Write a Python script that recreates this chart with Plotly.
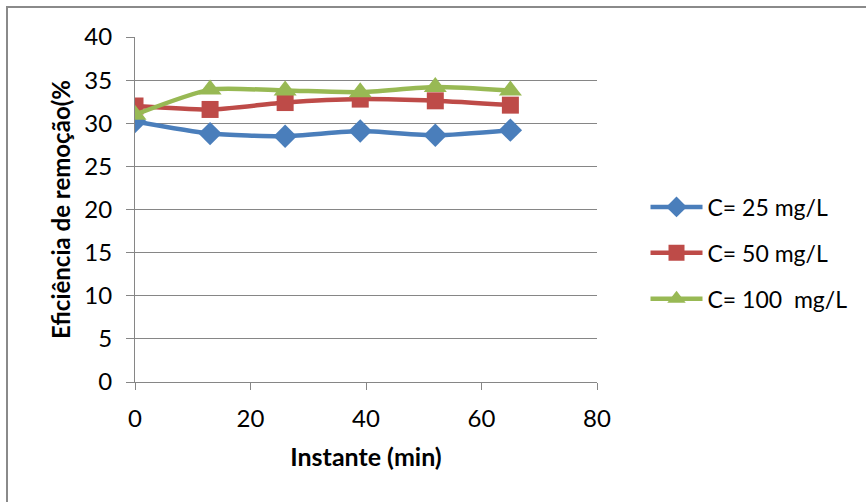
import plotly.graph_objects as go

x_min = [0, 13, 26, 39, 52, 65]
c25 = [30.2, 28.8, 28.5, 29.1, 28.6, 29.2]
c50 = [32.0, 31.6, 32.4, 32.8, 32.6, 32.1]
c100 = [31.0, 33.9, 33.8, 33.6, 34.2, 33.8]
names = ["C= 25 mg/L", "C= 50 mg/L", "C= 100  mg/L"]
colors = ["#4A7EBB", "#BE4B48", "#98B954"]
symbols = ["diamond", "square", "triangle-up"]
sizes = [18, 17, 20]

fig = go.Figure()
for i, (ys, nm, col, sym, sz) in enumerate(zip([c25, c50, c100], names, colors, symbols, sizes)):
    fig.add_trace(go.Scatter(
        x=x_min, y=ys, name=nm, mode="lines+markers", legendgroup=f"g{i}",
        line=dict(color=col, width=4.5, shape="spline", smoothing=0.6),
        marker=dict(symbol=sym, size=sz, color=col),
    ))

font_family = "Lato, 'Open Sans', sans-serif"
fig.update_layout(
    width=866, height=502,
    margin=dict(l=135, r=269, t=37, b=120),
    paper_bgcolor="white", plot_bgcolor="white",
    font=dict(family=font_family, size=24, color="black"),
    showlegend=True,
    legend=dict(x=1.105, y=0.374, xanchor="left", yanchor="middle",
                font=dict(size=23), tracegroupgap=13, itemwidth=52,
                bgcolor="rgba(0,0,0,0)"),
    xaxis=dict(range=[0, 80], tickvals=[0, 20, 40, 60, 80], showgrid=False,
               showline=True, linecolor="#868686", linewidth=1,
               ticks="outside", ticklen=7, tickcolor="#868686", zeroline=False,
               ticklabelstandoff=8, tickfont=dict(size=24),
               title=dict(text="<b>Instante (min)</b>", font=dict(size=25), standoff=17)),
    yaxis=dict(range=[0, 40], tickvals=list(range(0, 45, 5)), showgrid=True,
               gridcolor="#868686", gridwidth=1,
               showline=True, linecolor="#868686", linewidth=1,
               ticks="outside", ticklen=8, tickcolor="#868686", zeroline=False,
               ticklabelstandoff=9, tickfont=dict(size=24),
               title=dict(text="<b>Eficiência de remoção(%</b>", font=dict(size=24), standoff=6)),
)

fig.add_shape(type="rect", xref="paper", yref="paper",
              x0=(7 - 135) / 462, x1=1.8, y0=-0.6, y1=(382 - 7) / 345,
              line=dict(color="#8a8a8a", width=2), fillcolor="rgba(0,0,0,0)", layer="below")

fig.write_html("out.html")
